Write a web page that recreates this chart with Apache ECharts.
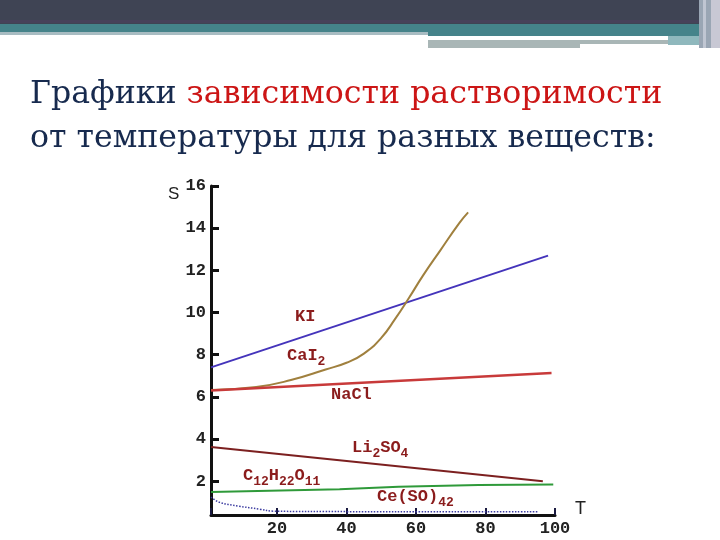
<!DOCTYPE html>
<html>
<head>
<meta charset="utf-8">
<script src="https://cdn.jsdelivr.net/npm/echarts@6/dist/echarts.min.js"></script>
<style>
  html, body { margin: 0; padding: 0; background: #fff; }
  #main { width: 720px; height: 540px; }
</style>
</head>
<body>
<div id="main"></div>
<script>
// данные (T — температура, S — растворимость)
var kiT = [1, 98];
var kiS = [7.4, 12.7];
var caT = [1, 14, 24, 34, 40, 45, 50, 54, 58, 62, 67, 72.5, 75];
var caS = [6.33, 6.47, 6.8, 7.3, 7.62, 8.05, 8.8, 9.7, 10.7, 11.75, 12.95, 14.25, 14.75];
var naclT = [1, 99];
var naclS = [6.3, 7.13];
var liT = [1, 96.5];
var liS = [3.62, 2.0];
var sucT = [1, 38, 55, 78, 99.5];
var sucS = [1.49, 1.62, 1.74, 1.82, 1.85];
var ceT = [1, 3.5, 9, 15, 19, 40, 70, 95];
var ceS = [1.25, 1.0, 0.82, 0.68, 0.58, 0.56, 0.55, 0.55];
var xTicks = [20, 40, 60, 80, 100];
var yTicks = [2, 4, 6, 8, 10, 12, 14, 16];

function pairs(xs, ys) {
  return xs.map(function (x, i) { return [x, ys[i]]; });
}

document.addEventListener('DOMContentLoaded', function () {
  var myChart = echarts.init(document.getElementById('main'));
  var navy = '#172a4e';
  var lblColor = '#8b1c1c';
  var monoFont = '"Liberation Mono", monospace';

  // подписи веществ (текст с индексами)
  function label(x, y, parts) {
    var rich = { n: { fontFamily: monoFont, fontWeight: 'bold', fontSize: 17, fill: lblColor },
                 s: { fontFamily: monoFont, fontWeight: 'bold', fontSize: 13, fill: lblColor, padding: [12, 0, 0, 0] } };
    return { type: 'text', left: x, top: y, z: 10,
      style: { text: parts, rich: rich, fill: lblColor, font: 'bold 17px ' + monoFont } };
  }

  var option = {
    backgroundColor: '#ffffff',
    animation: false,
    grid: { left: 211, top: 186, width: 344, height: 329, containLabel: false },
    xAxis: {
      type: 'value', min: 1, max: 100, splitNumber: 5, minInterval: 20, maxInterval: 20,
      axisLine: { show: true, lineStyle: { color: '#111', width: 3 } },
      axisTick: { show: true, inside: true, length: 7, lineStyle: { color: '#1a1a40', width: 2 } },
      splitLine: { show: false },
      axisLabel: {
        margin: 5, color: '#222', fontFamily: monoFont, fontWeight: 'bold', fontSize: 17,
        formatter: function (v) { return xTicks.indexOf(v) >= 0 ? String(v) : ''; }
      }
    },
    yAxis: {
      type: 'value', min: 0.4, max: 16, splitNumber: 8, minInterval: 2, maxInterval: 2,
      axisLine: { show: true, lineStyle: { color: '#111', width: 3 } },
      axisTick: { show: true, inside: true, length: 8, lineStyle: { color: '#111', width: 3 } },
      splitLine: { show: false },
      axisLabel: {
        margin: 5, color: '#222', fontFamily: monoFont, fontWeight: 'bold', fontSize: 17,
        formatter: function (v) { return yTicks.indexOf(v) >= 0 ? String(v) : ''; }
      }
    },
    series: [
      { name: 'KI', type: 'line', data: pairs(kiT, kiS), symbol: 'none',
        lineStyle: { color: '#4434bb', width: 2 } },
      { name: 'CaI2', type: 'line', data: pairs(caT, caS), symbol: 'none', smooth: 0.5,
        lineStyle: { color: '#a0803e', width: 2 } },
      { name: 'NaCl', type: 'line', data: pairs(naclT, naclS), symbol: 'none',
        lineStyle: { color: '#c83a3a', width: 2.5 } },
      { name: 'Li2SO4', type: 'line', data: pairs(liT, liS), symbol: 'none',
        lineStyle: { color: '#7c2020', width: 2 } },
      { name: 'C12H22O11', type: 'line', data: pairs(sucT, sucS), symbol: 'none',
        lineStyle: { color: '#2f9a3a', width: 2 } },
      { name: 'Ce2(SO4)3', type: 'line', data: pairs(ceT, ceS), symbol: 'none', smooth: 0.4,
        lineStyle: { color: '#3c3ca0', width: 1.5, type: 'dotted' } }
    ],
    graphic: [
      // шапка слайда
      { type: 'rect', shape: { x: 0, y: 0, width: 720, height: 24 }, style: { fill: '#3f4454' } },
      { type: 'rect', shape: { x: 0, y: 20, width: 720, height: 3 }, style: { fill: '#47425a' } },
      { type: 'rect', shape: { x: 0, y: 24, width: 720, height: 9 }, style: { fill: '#45838a' } },
      { type: 'rect', shape: { x: 0, y: 32, width: 428, height: 3 }, style: { fill: '#a8bcc2' } },
      { type: 'rect', shape: { x: 428, y: 32, width: 272, height: 4 }, style: { fill: '#45838a' } },
      { type: 'rect', shape: { x: 428, y: 40, width: 240, height: 4 }, style: { fill: '#a9b6b6' } },
      { type: 'rect', shape: { x: 428, y: 44, width: 152, height: 4 }, style: { fill: '#a9b6b6' } },
      { type: 'rect', shape: { x: 668, y: 36, width: 32, height: 9 }, style: { fill: '#8fb8bd' } },
      { type: 'rect', shape: { x: 699, y: 0, width: 12, height: 48 }, style: { fill: '#9aa6b4' } },
      { type: 'rect', shape: { x: 703, y: 0, width: 3, height: 48 }, style: { fill: '#c0c6d2' } },
      { type: 'rect', shape: { x: 711, y: 0, width: 9, height: 48 }, style: { fill: '#c8c8d4' } },
      // заголовок
      { type: 'text', left: 30, top: 79,
        style: {
          text: '{a|Графики }{b|зависимости растворимости}\n{a|от температуры для разных веществ:}',
          rich: {
            a: { fontFamily: '"DejaVu Serif", serif', fontSize: 31.6, fill: navy, lineHeight: 44 },
            b: { fontFamily: '"DejaVu Serif", serif', fontSize: 31.6, fill: '#cc1515', lineHeight: 44 }
          }
        } },
      // названия осей
      { type: 'text', left: 168, top: 186, style: { text: 'S', font: '17px "Liberation Sans", sans-serif', fill: '#222' } },
      { type: 'text', left: 575, top: 500, style: { text: 'T', font: '18px "Liberation Sans", sans-serif', fill: '#222' } },
      // подписи кривых
      label(295, 308, '{n|KI}'),
      label(287, 347, '{n|CaI}{s|2}'),
      label(331, 386, '{n|NaCl}'),
      label(352, 439, '{n|Li}{s|2}{n|SO}{s|4}'),
      label(243, 467, '{n|C}{s|12}{n|H}{s|22}{n|O}{s|11}'),
      label(377, 488, '{n|Ce(SO)}{s|42}')
    ]
  };
  myChart.setOption(option);
});
</script>
</body>
</html>
